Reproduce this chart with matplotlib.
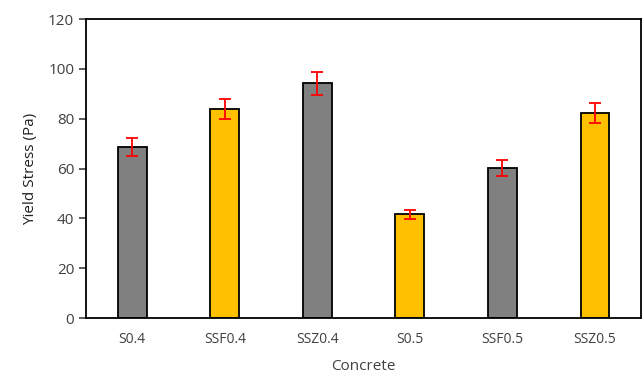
import numpy as np
import matplotlib.pyplot as plt

categories = ['S0.4', 'SSF0.4', 'SSZ0.4', 'S0.5', 'SSF0.5', 'SSZ0.5']
yield_stress = [68.7, 84.0, 94.2, 41.6, 60.1, 82.3]
yield_err = [3.5, 4.1, 4.6, 1.9, 3.2, 4.0]
bar_colors = ['#808080', '#FFC000', '#808080', '#FFC000', '#808080', '#FFC000']

plt.rcParams['font.family'] = ['Open Sans', 'DejaVu Sans']
text_col = '#404040'

fig = plt.figure(figsize=(6.44, 3.76), dpi=100)
ax = fig.add_axes([0.1335, 0.154, 0.862, 0.795])

x = np.arange(len(categories))
ax.bar(x, yield_stress, width=0.31, color=bar_colors, edgecolor='black', linewidth=1.3, zorder=2)
ax.errorbar(x, yield_stress, yerr=yield_err, fmt='none', ecolor='red', elinewidth=1.3,
            capsize=4, capthick=1.3, zorder=3)

ax.set_xlim(-0.5, 5.5)
ax.set_ylim(0, 120)
ax.set_yticks(np.arange(0, 121, 20))
ax.set_xticks(x)
ax.set_xticklabels(categories)
ax.tick_params(axis='x', length=0, pad=10, labelsize=10, colors=text_col)
ax.tick_params(axis='y', length=5, width=1.2, direction='out', labelsize=11, colors=text_col)
for s in ax.spines.values():
    s.set_linewidth(1.3)
    s.set_color('black')

ax.set_ylabel('Yield Stress (Pa)', fontsize=11, color='#202020', labelpad=7)
ax.set_xlabel('Concrete', fontsize=11, color=text_col, labelpad=9)

fig.savefig('out.png', dpi=100)
